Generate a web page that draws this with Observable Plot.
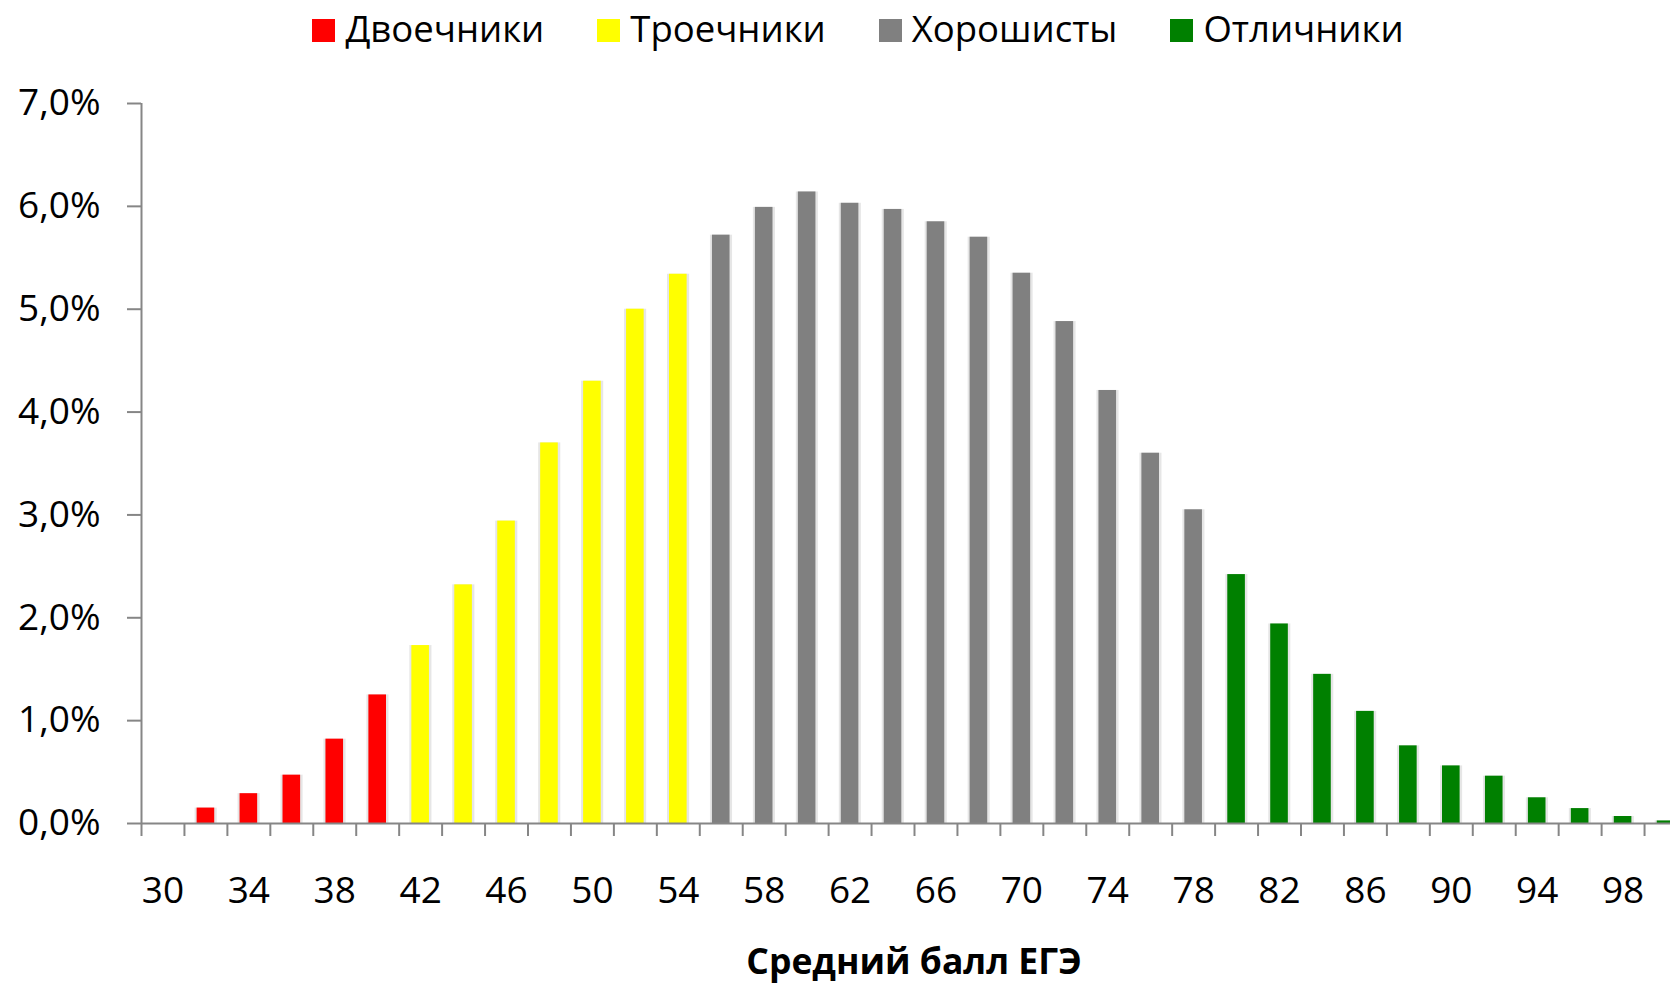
<!DOCTYPE html>
<html>
<head>
<meta charset="utf-8">
<script src="https://cdn.jsdelivr.net/npm/d3@7"></script>
<script src="https://cdn.jsdelivr.net/npm/@observablehq/plot@0.6"></script>
<style>
  html, body { margin: 0; padding: 0; background: #fff; overflow: hidden; }
  body { width: 1670px; height: 983px; position: relative; font-family: "Open Sans", Roboto, sans-serif; }
  #legend { height: 58px; width: 1716px; display: flex; justify-content: center; align-items: center; gap: 53px; font-size: 36.5px; color: #000; }
  #legend .item { display: flex; align-items: center; gap: 10px; }
  #legend .sw { width: 23px; height: 23px; display: inline-block; margin-top: 3px; }
  #legend .lbl { position: relative; top: -1px; }
  #chart { position: absolute; left: 0; top: 58px; }
  #chart svg { max-width: none !important; }
  #xtitle { position: absolute; top: 937px; height: 46px; line-height: 46px; text-align: center; font-size: 35.5px; font-weight: bold; color: #000; white-space: nowrap; }
</style>
</head>
<body>
<div id="legend"></div>
<div id="chart"></div>
<div id="xtitle"></div>
<script>
// ---- data ----
const categories = ["Двоечники", "Троечники", "Хорошисты", "Отличники"];
const colors = ["#FF0000", "#FFFF00", "#808080", "#008000"];
const scores = [30, 32, 34, 36, 38, 40, 42, 44, 46, 48, 50, 52, 54, 56, 58, 60, 62, 64,
                66, 68, 70, 72, 74, 76, 78, 80, 82, 84, 86, 88, 90, 92, 94, 96, 98, 100];
const shares = [0, 0.15, 0.29, 0.47, 0.82, 1.25, 1.73, 2.32, 2.94, 3.70, 4.30, 5.00, 5.34, 5.72, 5.99, 6.14, 6.03, 5.97,
                5.85, 5.70, 5.35, 4.88, 4.21, 3.60, 3.05, 2.42, 1.94, 1.45, 1.09, 0.755, 0.56, 0.46, 0.25, 0.145, 0.068, 0.025];
const groupIndex = [0, 0, 0, 0, 0, 0, 1, 1, 1, 1, 1, 1, 1, 2, 2, 2, 2, 2,
                    2, 2, 2, 2, 2, 2, 2, 3, 3, 3, 3, 3, 3, 3, 3, 3, 3, 3];
const xTickLabels = [30, 34, 38, 42, 46, 50, 54, 58, 62, 66, 70, 74, 78, 82, 86, 90, 94, 98];
const yTicks = [0, 1, 2, 3, 4, 5, 6, 7];
const xTitle = "Средний балл ЕГЭ";

// ---- table ----
const halfSlot = 1; // scores are spaced by 2
const table = scores.map((s, i) => ({
  score: s, lo: s - halfSlot, hi: s + halfSlot, pct: shares[i], group: categories[groupIndex[i]]
}));
const boundaries = [...scores.map(s => s - halfSlot), scores[scores.length - 1] + halfSlot];

// ---- layout ----
const W = 1687, H = 867, mL = 141, mR = 0, mT = 45, mB = 102;
const step = (W - mL - mR) / scores.length;
const barInset = step * 0.295;
const axisColor = "#868686";

const fmtY = d => d.toFixed(1).replace(".", ",") + "%";

const chart = Plot.plot({
  width: W, height: H,
  marginLeft: mL, marginRight: mR, marginTop: mT, marginBottom: mB,
  style: { fontFamily: "'Open Sans', Roboto, sans-serif", fontSize: "37px", color: "#000", background: "transparent", overflow: "visible", maxWidth: "none" },
  x: { type: "linear", domain: [boundaries[0], boundaries[boundaries.length - 1]] },
  y: { domain: [0, 7] },
  color: { domain: categories, range: colors },
  marks: [
    Plot.rectY(table, { x1: "lo", x2: "hi", y: "pct", fill: "#c8c8c8", fillOpacity: 0.45, insetLeft: barInset - 2, insetRight: barInset - 2.5 }),
    Plot.rectY(table, { x1: "lo", x2: "hi", y: "pct", fill: "group", insetLeft: barInset, insetRight: barInset }),
    Plot.ruleY([0], { stroke: axisColor, strokeWidth: 2 }),
    Plot.ruleX([boundaries[0]], { stroke: axisColor, strokeWidth: 2 }),
    Plot.axisY({ ticks: yTicks, tickSize: 14, tickPadding: 27, tickFormat: fmtY, stroke: axisColor, strokeWidth: 2, fill: "#000", label: null }),
    Plot.axisX({ ticks: boundaries, tickSize: 13, tickFormat: () => "", stroke: axisColor, strokeWidth: 2, label: null }),
    Plot.axisX({ ticks: xTickLabels, tickSize: 0, tickPadding: 53, tickFormat: d => String(d), fill: "#000", label: null })
  ]
});
document.getElementById("chart").appendChild(chart);

// ---- legend ----
const legend = document.getElementById("legend");
categories.forEach((c, i) => {
  const item = document.createElement("div");
  item.className = "item";
  const sw = document.createElement("span");
  sw.className = "sw";
  sw.style.background = colors[i];
  const lbl = document.createElement("span");
  lbl.className = "lbl";
  lbl.textContent = c;
  item.appendChild(sw);
  item.appendChild(lbl);
  legend.appendChild(item);
});

// ---- x title ----
const xt = document.getElementById("xtitle");
xt.textContent = xTitle;
xt.style.left = mL + "px";
xt.style.width = (W - mL - mR) + "px";
</script>
</body>
</html>
